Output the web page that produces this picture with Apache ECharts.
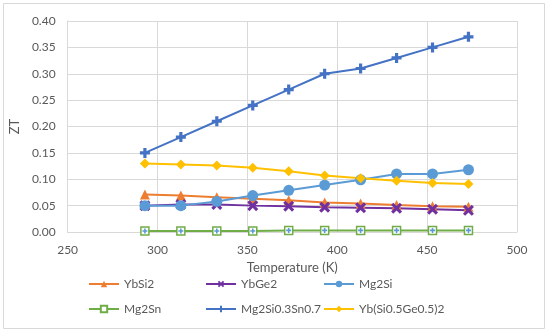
<!DOCTYPE html>
<html><head><meta charset="utf-8">
<script src="https://cdn.jsdelivr.net/npm/echarts@6/dist/echarts.min.js"></script>
<style>html,body{margin:0;padding:0;background:#fff}#c{width:550px;height:334px}</style>
</head><body><div id="c"></div>
<script>
const temps = [293, 313, 333, 353, 373, 393, 413, 433, 453, 473];
const ybsi2 = [0.071, 0.069, 0.066, 0.063, 0.060, 0.056, 0.054, 0.051, 0.049, 0.048];
const ybge2 = [0.050, 0.052, 0.052, 0.050, 0.049, 0.047, 0.046, 0.045, 0.043, 0.041];
const mg2si = [0.050, 0.050, 0.058, 0.069, 0.079, 0.089, 0.099, 0.110, 0.110, 0.118];
const mg2sn = [0.002, 0.002, 0.002, 0.002, 0.003, 0.003, 0.003, 0.003, 0.003, 0.003];
const mg2sisn = [0.15, 0.18, 0.21, 0.24, 0.27, 0.30, 0.31, 0.33, 0.35, 0.37];
const ybsige = [0.130, 0.128, 0.126, 0.122, 0.115, 0.107, 0.102, 0.097, 0.093, 0.091];
const names = ['YbSi2', 'YbGe2', 'Mg2Si', 'Mg2Sn', 'Mg2Si0.3Sn0.7', 'Yb(Si0.5Ge0.5)2'];
const xTicks = [250, 300, 350, 400, 450, 500];
const yTicks = [0, 0.05, 0.10, 0.15, 0.20, 0.25, 0.30, 0.35, 0.40];

const plusPath = 'path://M3.4,0H6.6V3.4H10V6.6H6.6V10H3.4V6.6H0V3.4H3.4Z';
const xPath = 'path://M2,0L5,3L8,0L10,2L7,5L10,8L8,10L5,7L2,10L0,8L3,5L0,2Z';
const pair = arr => temps.map((t, i) => [t, arr[i]]);
const font = 'Lato, "Open Sans", sans-serif';
const txt = '#595959';

function s(name, data, color, symbol, size, extra) {
  return Object.assign({
    name, type: 'line', data: pair(data), symbol, symbolSize: size,
    lineStyle: { color, width: 2 }, itemStyle: { color },
    emphasis: { disabled: true }, animation: false, z: 3
  }, extra || {});
}

const series = [
  s(names[0], ybsi2, '#ED7D31', 'triangle', 10),
  s(names[1], ybge2, '#7030A0', xPath, 11),
  s(names[2], mg2si, '#5B9BD5', 'circle', 11),
  s(names[3], mg2sn, '#70AD47', 'rect', 8, { itemStyle: { color: '#fff', borderColor: '#70AD47', borderWidth: 1.5 } }),
  s('Mg2Sn-inner', mg2sn, '#5B9BD5', plusPath, 5, { lineStyle: { width: 0, opacity: 0 }, z: 4 }),
  s(names[4], mg2sisn, '#4472C4', plusPath, 10),
  s(names[5], ybsige, '#FFC000', 'diamond', 10)
];

const legPos = [[88, 278], [205, 278], [323, 278], [88, 303], [205, 303], [323, 303]];
const legends = names.map((n, i) => ({
  data: [n], left: legPos[i][0], top: legPos[i][1], itemWidth: 30, itemHeight: 8,
  textStyle: { color: txt, fontSize: 12, fontFamily: font }, selectedMode: false, padding: 0, itemGap: 0
}));

const chart = echarts.init(document.getElementById('c'));
chart.setOption({
  backgroundColor: '#fff',
  animation: false,
  graphic: [{ type: 'rect', shape: { x: 3.5, y: 3.5, width: 541, height: 325 },
    style: { fill: 'none', stroke: '#d9d9d9', lineWidth: 1 }, silent: true }],
  grid: { left: 62, right: 33, top: 21, bottom: 102 },
  legend: legends,
  xAxis: {
    type: 'value', min: xTicks[0], max: xTicks[xTicks.length - 1], interval: 50,
    name: 'Temperature (K)', nameLocation: 'middle', nameGap: 29,
    nameTextStyle: { color: txt, fontSize: 13, fontFamily: font },
    axisLine: { show: true, lineStyle: { color: '#d9d9d9' } }, axisTick: { show: false },
    axisLabel: { color: txt, fontSize: 12, fontFamily: font, margin: 12 },
    splitLine: { show: true, lineStyle: { color: '#d9d9d9' } }
  },
  yAxis: {
    type: 'value', min: yTicks[0], max: yTicks[yTicks.length - 1], interval: 0.05,
    name: 'ZT', nameLocation: 'middle', nameGap: 44, nameRotate: 90,
    nameTextStyle: { color: txt, fontSize: 13, fontFamily: font },
    axisLine: { show: true, lineStyle: { color: '#d9d9d9' } }, axisTick: { show: false },
    axisLabel: { color: txt, fontSize: 12, fontFamily: font, margin: 12, formatter: v => v.toFixed(2) },
    splitLine: { show: true, lineStyle: { color: '#d9d9d9' } }
  },
  series
});
</script></body></html>
